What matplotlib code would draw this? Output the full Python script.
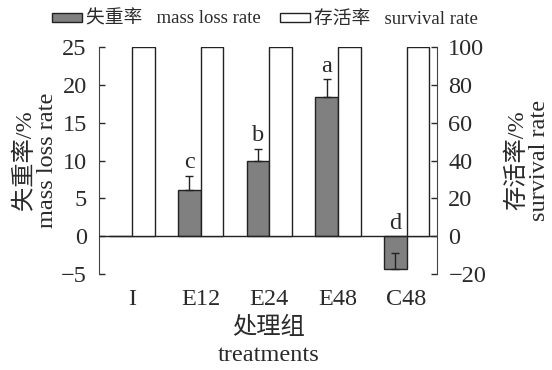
import numpy as np
import matplotlib.pyplot as plt
from matplotlib.patches import Patch

plt.rcParams['font.family'] = ['Liberation Serif', 'Noto Sans CJK SC']
plt.rcParams['axes.unicode_minus'] = True

# treatments and measurements
groups = ["I", "E12", "E24", "E48", "C48"]
mass_loss = [0, 6.1, 10.0, 18.4, -4.4]       # %
mass_loss_err = [0, 1.9, 1.6, 2.4, 2.1]     # upper error only
survival = [100, 100, 100, 100, 100]        # %
letters = ["", "c", "b", "a", "d"]

txt = '#2a2a2a'
fs = 17.5
x = np.arange(len(groups))
w = 0.33

fig = plt.figure(figsize=(5.52, 3.7), dpi=100)
ax = fig.add_axes([0.180, 0.260, 0.612, 0.612])
ax2 = ax.twinx()

ax.bar(x - w / 2, mass_loss, width=w, color='#808080', edgecolor='#222222', linewidth=1, zorder=3)
ax.errorbar(x[1:] - w / 2, mass_loss[1:],
            yerr=[np.zeros(len(x) - 1), mass_loss_err[1:]],
            fmt='none', ecolor='#222222', elinewidth=1, capsize=3, capthick=1, zorder=4)
ax2.bar(x + w / 2, survival, width=w, color='white', edgecolor='#222222', linewidth=1, zorder=3)

# significance letters
for xi, v, e, s in zip(x, mass_loss, mass_loss_err, letters):
    if not s:
        continue
    top = max(v + e, 0)
    ax.text(xi - w / 2, top + 1.0, s, ha='center', va='baseline', fontsize=fs, color=txt)

ax.axhline(0, color='#222222', lw=1, zorder=5)

ax.set_xlim(-0.474, 4.445)
ax.set_ylim(-5, 25)
ax2.set_ylim(-20, 100)
ax.set_yticks([-5, 0, 5, 10, 15, 20, 25])
ax2.set_yticks([-20, 0, 20, 40, 60, 80, 100])
ax.set_xticks(x)
ax.set_xticklabels(groups)

for a in (ax, ax2):
    a.spines['top'].set_visible(False)
    a.spines['bottom'].set_visible(False)
    a.tick_params(labelsize=fs, colors=txt, length=4, width=1, direction='in', pad=8)
ax2.spines['left'].set_visible(False)
ax.spines['right'].set_visible(False)
ax.spines['left'].set_color('#444444')
ax2.spines['right'].set_color('#444444')
ax.tick_params(axis='y', pad=9)
ax.tick_params(axis='x', length=0, pad=11)

ax.set_ylabel("失重率/%\nmass loss rate", fontsize=fs, color=txt, labelpad=2, linespacing=1.05)
ax2.set_ylabel("存活率/%\nsurvival rate", fontsize=fs, color=txt, labelpad=14, linespacing=1.05)
ax.set_xlabel("处理组\ntreatments", fontsize=fs, color=txt, labelpad=5, linespacing=1.35)

handles = [Patch(facecolor='#808080', edgecolor='#222222', lw=1),
           Patch(facecolor='white', edgecolor='#222222', lw=1)]
fig.legend(handles, ["失重率   mass loss rate", "存活率   survival rate"],
           loc='center', bbox_to_anchor=(0.48, 0.948), ncol=2, frameon=False,
           fontsize=13.5, handlelength=1.6, handleheight=0.35, handletextpad=0.25,
           columnspacing=1.0, labelcolor=txt)

fig.savefig("out.png", dpi=100)
